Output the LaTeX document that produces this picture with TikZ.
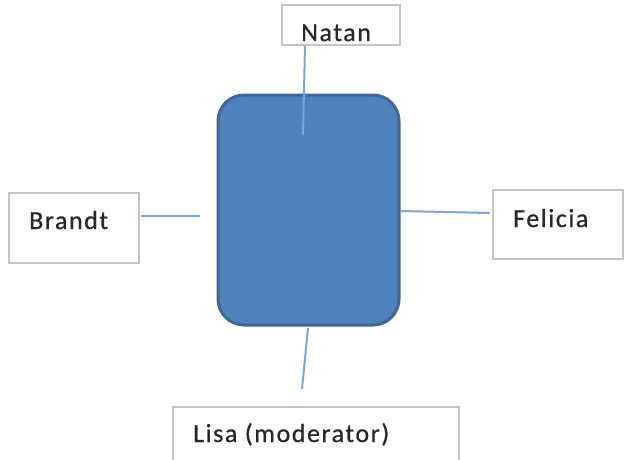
\documentclass[tikz,border=0pt]{standalone}
\usepackage{fontspec}
\setmainfont{Carlito}[LetterSpace=6, FakeBold=0.6]
\usetikzlibrary{positioning}

\definecolor{hubfill}{HTML}{4F81BD}
\definecolor{hubline}{HTML}{3D6796}
\definecolor{wire}{HTML}{7EA4D6}
\definecolor{boxline}{HTML}{C4C4C4}

\tikzset{
  namebox/.style={draw=boxline, line width=1.2pt, fill=white, rectangle, inner sep=0pt},
  nametext/.style={anchor=base west, inner sep=0pt, text=black!85, font=\fontsize{26}{30}\selectfont},
  wireline/.style={draw=wire, line width=2pt}
}

\begin{document}
\begin{tikzpicture}[x=1pt, y=-1pt]
					\clip (0,0) rectangle (624,460);
					\useasboundingbox (0,0) rectangle (624,460);
					
					\node[draw=hubline, fill=hubfill, line width=3pt, rounded corners=26pt,
					      minimum width=181pt, minimum height=230pt] (hub) at (308.5,210) {};
					
					\node[namebox, minimum width=118pt, minimum height=40pt] (natan) at (341,25) {};
					\node[namebox, minimum width=130pt, minimum height=70pt] (brandt) at (74,228) {};
					\node[namebox, minimum width=130pt, minimum height=69pt] (felicia) at (558,224.5) {};
					\node[namebox, minimum width=286pt, minimum height=63pt] (lisa) at (316,438.5) {};
					
					\node[nametext] (natanText) at (301,41) {Natan};
					\node[nametext] (brandtText) at (29,229) {Brandt};
					\node[nametext] (feliciaText) at (513,227) {Felicia};
					\node[nametext] (lisaText) at (193,442) {Lisa (moderator)};
					
					\coordinate (topEnd) at (303,135);
					\coordinate (leftEnd) at (200,216);
					\coordinate (rightEnd) at (490,213);
					\coordinate (bottomEnd) at (302,389);
					
					\draw[wireline] (natan.south) ++(-36,0) -- (topEnd);
					\draw[wireline] (brandt.east) ++(1.5,-12) -- (leftEnd);
					\draw[wireline] (hub.east) ++(0,1) -- (rightEnd);
					\draw[wireline] (hub.south) ++(-0.5,1.5) -- (bottomEnd);
				\end{tikzpicture}
\end{document}
